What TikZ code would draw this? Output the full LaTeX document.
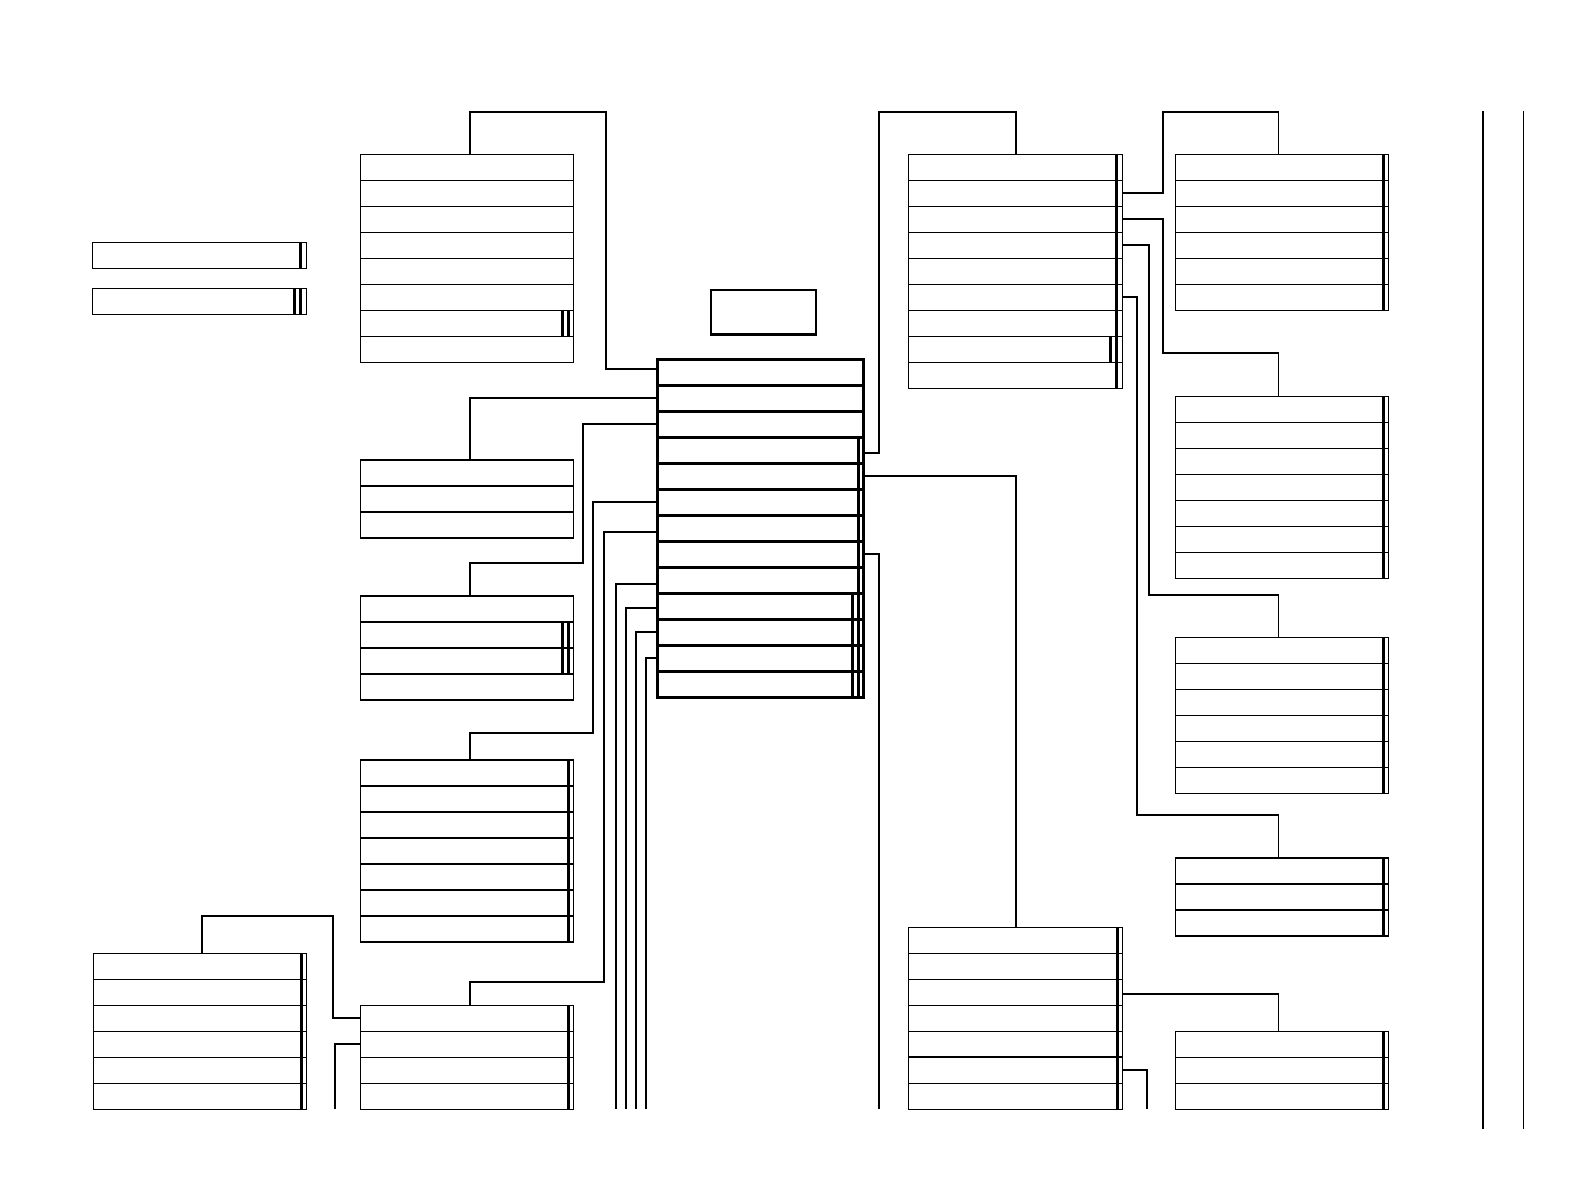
\documentclass[tikz,border=0pt]{standalone}
\usepackage{tikz}
\usetikzlibrary{calc}

\tikzset{
  row/.style={draw, line width=1.2pt, minimum height=26pt, inner sep=0pt, outer sep=0pt, anchor=north west},
  ctrrow/.style={row, line width=2.5pt},
  link/.style={line width=1.8pt},
  keybar/.style={line width=3pt},
}
% stack of rows: [style] name, left, top, width, rows
\newcommand{\tablerows}[6][row]{%
  \foreach \r in {1,...,#6}
    \node[#1, minimum width=#5pt] (#2-\r) at (#3,{#4+26*(\r-1)}) {};
}
% key column: table, first row, last row, distance from right border
\newcommand{\keycol}[4]{%
  \draw[keybar] ([xshift=-#4pt]#1-#2.north east) -- ([xshift=-#4pt]#1-#3.south east);
}

\begin{document}
\begin{tikzpicture}[x=1pt,y=-1pt]
\path[fill=white,use as bounding box] (0,0) rectangle (1582,1190);

% left side
\tablerows{boxa}{92.3}{242.3}{214.4}{1}
\tablerows{boxb}{92.3}{288.3}{214.4}{1}
\tablerows{tA}{360.7}{154.3}{212.6}{8}
\tablerows{tB}{360.7}{460}{212.6}{3}
\tablerows{tC}{360.7}{596}{212.6}{4}
\tablerows{tD}{360.7}{760}{212.6}{7}
\tablerows{tE}{360.7}{1005.3}{212.6}{4}
\tablerows{tF}{93.3}{953.3}{213.4}{6}
\keycol{boxa}{1}{1}{6}
\keycol{boxb}{1}{1}{6}
\keycol{boxb}{1}{1}{12}
\keycol{tA}{7}{7}{5.3}
\keycol{tA}{7}{7}{10.8}
\keycol{tC}{2}{3}{5.3}
\keycol{tC}{2}{3}{10.8}
\keycol{tD}{1}{7}{5.3}
\keycol{tE}{1}{4}{5.3}
\keycol{tF}{1}{6}{5.4}

% middle
\node[draw, line width=2.5pt, minimum width=105pt, minimum height=44pt, inner sep=0pt, anchor=north west] (title) at (709.7,289) {};
\tablerows[ctrrow]{ctr}{657.3}{359.3}{206}{13}
\keycol{ctr}{4}{13}{4.8}
\keycol{ctr}{10}{13}{11.3}

% right side
\tablerows{rA}{908.3}{154.3}{214}{9}
\tablerows{rG}{908.3}{927.3}{214}{7}
\tablerows{rB}{1175.7}{154.3}{212.6}{6}
\tablerows{rC}{1175.7}{396.5}{212.6}{7}
\tablerows{rD}{1175.7}{637.7}{212.6}{6}
\tablerows{rE}{1175.7}{858}{212.6}{3}
\tablerows{rF}{1175.7}{1031.3}{212.6}{3}
\keycol{rA}{1}{9}{5.6}
\keycol{rA}{8}{8}{12.3}
\keycol{rG}{1}{7}{4.5}
\keycol{rB}{1}{6}{5}
\keycol{rC}{1}{7}{5}
\keycol{rD}{1}{6}{5}
\keycol{rE}{1}{3}{5}
\keycol{rF}{1}{3}{5}
\draw[line width=2pt] (rG-6.north west) -- (rG-6.north east);

% loose ends at the foot of the sheet
\coordinate (cut1) at (616,1109.3);
\coordinate (cut2) at (626,1109.3);
\coordinate (cut3) at (636,1109.3);
\coordinate (cut4) at (646,1109.3);
\coordinate (cut5) at (879.3,1109.3);
\coordinate (cut6) at (1146.7,1109.3);
\coordinate (cut7) at (335,1109.3);

% links into the middle table
\draw[link] ([xshift=3pt]tA-1.north) |- (606,112.3) |- ([yshift=3pt]ctr-1.west);
\draw[link] ([xshift=3pt]tB-1.north) |- (ctr-2.west);
\draw[link] ([xshift=3pt]tC-1.north) |- (583,563.3) |- (ctr-3.west);
\draw[link] ([xshift=3pt]tD-1.north) |- (593,733.3) |- (ctr-6.west);
\draw[link] ([xshift=3pt]tE-1.north) |- (604,981.7) |- ([yshift=-3.5pt]ctr-7.west);
\draw[link] ([yshift=-3.7pt]ctr-9.west) -| (cut1);
\draw[link] ([yshift=-1.7pt]ctr-10.west) -| (cut2);
\draw[link] (ctr-11.west) -| (cut3);
\draw[link] (ctr-12.west) -| (cut4);
\draw[link] ([xshift=2pt]tF-1.north) |- (332.7,915.7) |- (tE-1.west);
\draw[link] (tE-2.west) -| (cut7);

% links out of the middle table
\draw[link] ([yshift=-3pt]ctr-4.east) -| (879.3,112.3) -| ([xshift=1pt]rA-1.north);
\draw[link] (ctr-5.east) -| ([xshift=1pt]rG-1.north);
\draw[link] (ctr-8.east) -| (cut5);
\draw[link] (rA-2.east) -| (1163.3,112.3) -| ([xshift=-3.5pt]rB-1.north);
\draw[link] (rA-3.east) -| (1163.3,353.3) -| ([xshift=-3.5pt]rC-1.north);
\draw[link] (rA-4.east) -| (1149.3,595.3) -| ([xshift=-3.5pt]rD-1.north);
\draw[link] (rA-6.east) -| (1137,815.2) -| ([xshift=-3.5pt]rE-1.north);
\draw[link] ([yshift=-1.7pt]rG-3.east) -| ([xshift=-3.5pt]rF-1.north);
\draw[link] (rG-6.east) -| (cut6);

% rules at the right edge
\draw[line width=1.8pt] (1483,111) -- (1483,1129);
\draw[line width=1.8pt] (1523.5,111) -- (1523.5,1129);
\end{tikzpicture}
\end{document}
